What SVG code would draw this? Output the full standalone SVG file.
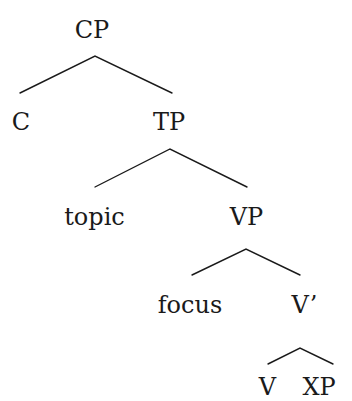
<svg xmlns="http://www.w3.org/2000/svg" width="352" height="401" viewBox="0 0 352 401">
  <style>
    .lbl { font-family: "DejaVu Serif", "Liberation Serif", serif; font-size: 24px; fill: #1a1a1a; text-anchor: middle; }
    .edge { stroke: #1a1a1a; stroke-width: 1.4; fill: none; stroke-linecap: round; }
  </style>
  <rect width="352" height="401" fill="#ffffff"/>
  <g id="connectors">
    <polyline class="edge" points="20,93 95,56 172,93"/>
    <polyline class="edge" points="95,187 170,149 247,187"/>
    <polyline class="edge" points="192,275 246,249 300,275"/>
    <polyline class="edge" points="268,364 300,348 333,364"/>
  </g>
  <g id="CP"><text class="lbl" x="92" y="38">CP</text></g>
  <g id="C"><text class="lbl" x="21" y="130">C</text></g>
  <g id="TP"><text class="lbl" x="169" y="130">TP</text></g>
  <g id="topic"><text class="lbl" x="94.5" y="225">topic</text></g>
  <g id="VP"><text class="lbl" x="246.5" y="225">VP</text></g>
  <g id="focus"><text class="lbl" x="190" y="313">focus</text></g>
  <g id="Vbar"><text class="lbl" x="304.5" y="313">V’</text></g>
  <g id="V"><text class="lbl" x="267.5" y="394.5">V</text></g>
  <g id="XP"><text class="lbl" x="319" y="394.5">XP</text></g>
</svg>
